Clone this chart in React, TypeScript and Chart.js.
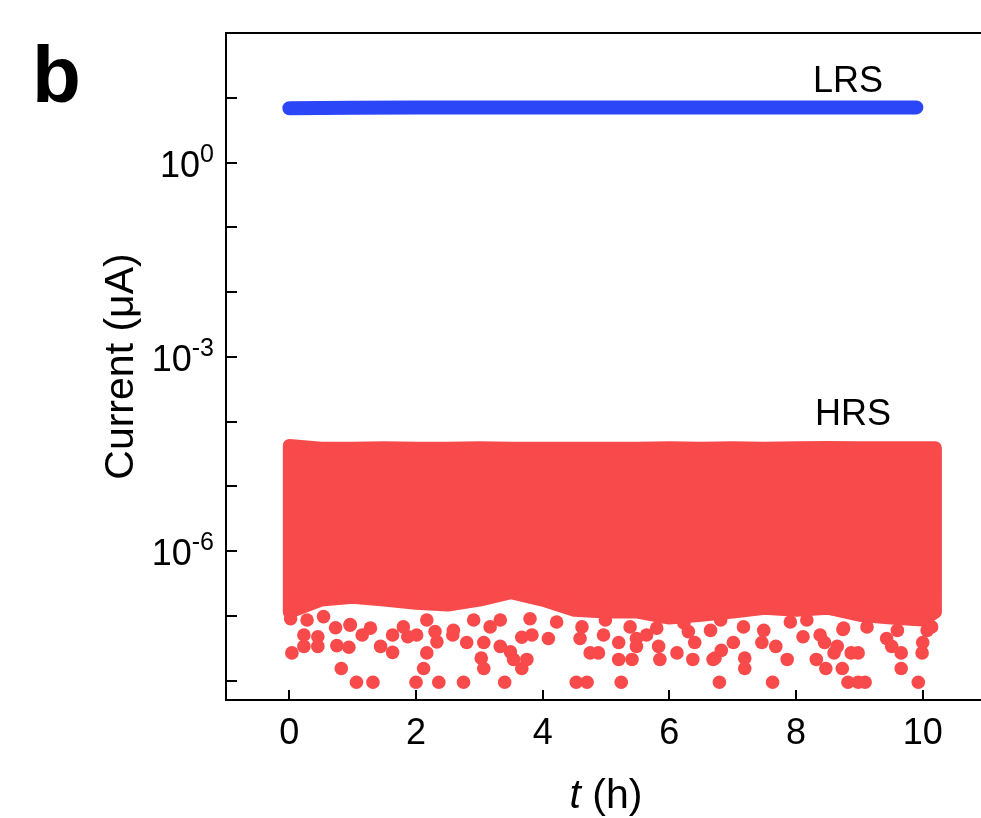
import React, { useEffect, useRef } from "react";
import { Chart, registerables } from "chart.js";

Chart.register(...registerables);

// ---------- data (current in µA, time in h) ----------
const X_TICKS = [0, 2, 4, 6, 8, 10];
const Y_DECADES = [-8, -7, -6, -5, -4, -3, -2, -1, 0, 1];
const Y_LABELED = [0, -3, -6];

// LRS retention trace
const LRS_T = [0, 1, 2, 3, 4, 5, 6, 7, 8, 9, 9.9];
const LRS_I = [6.9, 7.0, 7.1, 7.1, 7.1, 7.1, 7.1, 7.1, 7.1, 7.1, 7.1];

// HRS dense cloud: upper and lower envelopes read on a time grid
const HRS_T = [0, 0.5, 1, 1.5, 2, 2.5, 3, 3.5, 4, 4.5, 5, 5.5, 6, 6.5, 7, 7.5, 8, 8.5, 9, 9.5, 10, 10.2];
const HRS_UPPER = [4.3e-5, 3.9e-5, 3.9e-5, 3.95e-5, 3.9e-5, 3.9e-5, 3.95e-5, 3.9e-5, 3.9e-5, 3.9e-5, 3.9e-5, 3.9e-5, 3.95e-5, 3.9e-5, 3.95e-5, 3.9e-5, 3.95e-5, 4.0e-5, 3.95e-5, 3.95e-5, 3.95e-5, 3.95e-5];
const HRS_LOWER = [1.15e-7, 1.76e-7, 1.95e-7, 1.76e-7, 1.58e-7, 1.48e-7, 1.76e-7, 2.3e-7, 1.76e-7, 1.23e-7, 1.15e-7, 1.15e-7, 9.3e-8, 1.03e-7, 1.15e-7, 1.32e-7, 1.23e-7, 1.32e-7, 1.03e-7, 9.3e-8, 8.7e-8, 1.15e-7];

// HRS clustered points just below the dense cloud [t, I]
const HRS_CLUSTER: [number, number][] = [
  [0.02, 9.1e-8], [0.28, 8.7e-8], [0.54, 9.8e-8], [0.96, 7.2e-8], [1.28, 6.5e-8],
  [1.8, 6.8e-8], [2.17, 8.7e-8], [2.59, 6.0e-8], [2.91, 8.7e-8], [3.17, 6.8e-8],
  [3.33, 8.7e-8], [3.8, 9.1e-8], [4.22, 8.1e-8], [4.62, 6.8e-8], [4.99, 8.7e-8],
  [5.38, 6.8e-8], [5.8, 6.5e-8], [6.23, 7.8e-8], [6.65, 6.0e-8], [6.81, 8.7e-8],
  [7.17, 6.8e-8], [7.49, 6.0e-8], [7.91, 8.1e-8], [8.17, 8.7e-8], [8.75, 6.5e-8],
  [9.12, 6.8e-8], [9.6, 6.0e-8], [10.07, 6.0e-8], [10.17, 1.32e-7],
];

// HRS sparse low-current outliers [t, I]
const HRS_OUTLIERS: [number, number][] = [
  [0.04, 2.7e-8], [0.23, 3.4e-8], [0.23, 5.1e-8], [0.45, 3.4e-8], [0.45, 4.8e-8],
  [0.75, 3.5e-8], [0.73, 6.6e-8], [0.82, 1.55e-8], [0.94, 3.3e-8], [0.96, 7.4e-8],
  [1.06, 9.5e-9], [1.15, 5.1e-8], [1.32, 9.5e-9], [1.44, 3.4e-8], [1.63, 2.75e-8],
  [1.63, 5.1e-8], [1.87, 4.8e-8], [2.0, 9.5e-9], [2.01, 5.1e-8], [2.12, 1.55e-8],
  [2.17, 2.7e-8], [2.3, 5.75e-8], [2.33, 4.0e-8], [2.36, 9.5e-9], [2.58, 5.1e-8],
  [2.75, 9.5e-9], [2.8, 3.9e-8], [3.03, 2.24e-8], [3.07, 1.55e-8], [3.07, 3.9e-8],
  [3.33, 3.4e-8], [3.4, 9.5e-9], [3.49, 2.8e-8], [3.54, 2.14e-8], [3.67, 1.55e-8],
  [3.67, 4.7e-8], [3.75, 2.14e-8], [3.83, 5.1e-8], [4.09, 4.5e-8], [4.53, 9.5e-9],
  [4.59, 4.5e-8], [4.7, 9.5e-9], [4.75, 2.7e-8], [4.88, 2.7e-8], [4.96, 5.1e-8],
  [5.2, 3.9e-8], [5.2, 2.14e-8], [5.24, 9.5e-9], [5.41, 2.14e-8], [5.48, 3.4e-8],
  [5.48, 4.5e-8], [5.64, 5.1e-8], [5.83, 3.4e-8], [5.85, 2.14e-8], [6.12, 2.7e-8],
  [6.3, 5.75e-8], [6.37, 2.14e-8], [6.4, 3.9e-8], [6.69, 2.14e-8], [6.72, 2.24e-8],
  [6.79, 9.5e-9], [6.82, 2.95e-8], [7.01, 3.9e-8], [7.19, 1.55e-8], [7.19, 2.24e-8],
  [7.46, 3.9e-8], [7.63, 9.5e-9], [7.68, 3.4e-8], [7.86, 2.14e-8], [8.11, 4.8e-8],
  [8.32, 2.14e-8], [8.38, 5.1e-8], [8.45, 3.9e-8], [8.47, 1.55e-8], [8.6, 2.7e-8],
  [8.65, 3.4e-8], [8.73, 1.55e-8], [8.74, 6.2e-8], [8.82, 9.5e-9], [8.87, 2.7e-8],
  [8.98, 2.7e-8], [8.98, 9.5e-9], [9.09, 9.5e-9], [9.43, 4.5e-8], [9.51, 3.4e-8],
  [9.66, 1.55e-8], [9.66, 2.7e-8], [9.93, 9.5e-9], [9.99, 2.7e-8], [10.0, 3.9e-8],
  [10.14, 6.8e-8],
];

const RED = "#F94A4B";
const BLUE = "#2B46F6";
const FONT = '"Liberation Sans", Arial, Helvetica, sans-serif';

const decorPlugin = {
  id: "decor",
  afterDatasetsDraw(chart: any) {
    const ctx: CanvasRenderingContext2D = chart.ctx;
    const { left, right, top, bottom } = chart.chartArea;
    const xs = chart.scales.x;
    const ys = chart.scales.y;
    ctx.save();
    ctx.strokeStyle = "#000";
    ctx.lineWidth = 2;
    ctx.lineCap = "butt";
    ctx.beginPath();
    ctx.moveTo(left, top);
    ctx.lineTo(right, top);
    ctx.moveTo(left, top - 1);
    ctx.lineTo(left, bottom);
    ctx.lineTo(right, bottom);
    for (const e of Y_DECADES) {
      const y = Math.round(ys.getPixelForValue(Math.pow(10, e)));
      ctx.moveTo(left, y);
      ctx.lineTo(left + 11, y);
    }
    for (const t of X_TICKS) {
      const x = Math.round(xs.getPixelForValue(t));
      ctx.moveTo(x, bottom);
      ctx.lineTo(x, bottom - 10);
    }
    ctx.stroke();

    ctx.fillStyle = "#000";
    // x tick labels
    ctx.font = `36px ${FONT}`;
    ctx.textAlign = "center";
    ctx.textBaseline = "alphabetic";
    for (const t of X_TICKS) {
      ctx.fillText(String(t), xs.getPixelForValue(t), bottom + 44);
    }
    // y tick labels 10^n
    for (const e of Y_LABELED) {
      const y = ys.getPixelForValue(Math.pow(10, e));
      const exp = String(e);
      ctx.font = `25px ${FONT}`;
      const ew = ctx.measureText(exp).width;
      ctx.textAlign = "right";
      ctx.fillText(exp, left - 12, y - 1);
      ctx.font = `36px ${FONT}`;
      ctx.fillText("10", left - 12 - ew, y + 14);
    }
    // axis titles
    ctx.font = `41px ${FONT}`;
    ctx.save();
    ctx.translate(133, (top + bottom) / 2);
    ctx.rotate(-Math.PI / 2);
    ctx.textAlign = "center";
    ctx.fillText("Current (\u03BCA)", 0, 0);
    ctx.restore();

    const tPart = "t";
    const rest = " (h)";
    ctx.font = `italic 41px ${FONT}`;
    const tw = ctx.measureText(tPart).width;
    ctx.font = `41px ${FONT}`;
    const rw = ctx.measureText(rest).width;
    const cx = (xs.getPixelForValue(4) + xs.getPixelForValue(6)) / 2;
    const startX = cx - (tw + rw) / 2;
    ctx.textAlign = "left";
    ctx.font = `italic 41px ${FONT}`;
    ctx.fillText(tPart, startX, 808);
    ctx.font = `41px ${FONT}`;
    ctx.fillText(rest, startX + tw, 808);

    // annotations
    ctx.font = `36px ${FONT}`;
    ctx.textAlign = "center";
    ctx.fillText("LRS", 848, 92);
    ctx.fillText("HRS", 853, 425);
    ctx.font = `bold 80px ${FONT}`;
    ctx.textAlign = "left";
    ctx.fillText("b", 32, 102);
    ctx.restore();
  },
};

export default function App() {
  const ref = useRef<HTMLCanvasElement | null>(null);
  useEffect(() => {
    if (!ref.current) return;
    const outline = [
      ...HRS_T.map((t, i) => ({ x: t, y: HRS_UPPER[i] })),
      ...HRS_T.map((t, i) => ({ x: t, y: HRS_LOWER[i] })).reverse(),
    ];
    outline.push({ ...outline[0] });
    const dotStyle = {
      pointRadius: 6.8,
      pointHoverRadius: 6.8,
      pointBackgroundColor: RED,
      pointBorderWidth: 0,
      backgroundColor: RED,
      borderColor: RED,
    };
    const chart = new Chart(ref.current, {
      type: "scatter",
      data: {
        datasets: [
          {
            label: "HRS band",
            data: outline,
            showLine: true,
            fill: "shape",
            backgroundColor: RED,
            borderColor: RED,
            borderWidth: 13,
            borderJoinStyle: "round",
            borderCapStyle: "round",
            pointRadius: 0,
            pointHoverRadius: 0,
            tension: 0,
          } as any,
          {
            label: "HRS cluster",
            data: HRS_CLUSTER.map(([x, y]) => ({ x, y })),
            ...dotStyle,
          } as any,
          {
            label: "HRS",
            data: HRS_OUTLIERS.map(([x, y]) => ({ x, y })),
            ...dotStyle,
          } as any,
          {
            label: "LRS",
            data: LRS_T.map((t, i) => ({ x: t, y: LRS_I[i] })),
            showLine: true,
            borderColor: BLUE,
            backgroundColor: BLUE,
            borderWidth: 14,
            borderCapStyle: "round",
            borderJoinStyle: "round",
            pointRadius: 0,
            pointHoverRadius: 0,
            fill: false,
          } as any,
        ],
      },
      options: {
        responsive: false,
        animation: false,
        devicePixelRatio: 1,
        layout: { autoPadding: false, padding: { left: 226, top: 33, right: 0, bottom: 118 } },
        plugins: { legend: { display: false }, tooltip: { enabled: false } },
        scales: {
          x: { type: "linear", min: -1, max: 10.92, display: false },
          y: { type: "logarithmic", min: 5.06e-9, max: 100, display: false },
        },
      },
      plugins: [decorPlugin],
    });
    return () => chart.destroy();
  }, []);
  return (
    <div style={{ position: "fixed", left: 0, top: 0, width: 981, height: 818, background: "#fff" }}>
      <canvas ref={ref} width={981} height={818} style={{ display: "block" }} />
    </div>
  );
}
